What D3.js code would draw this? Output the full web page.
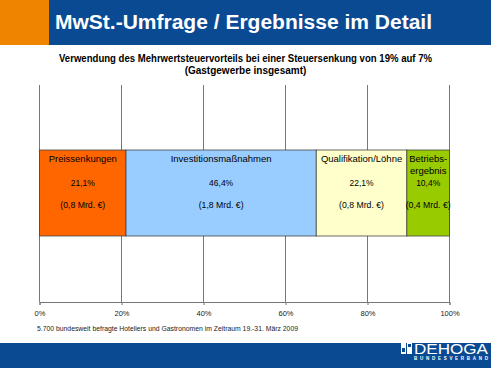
<!DOCTYPE html>
<html><head><meta charset="utf-8">
<script src="https://cdn.jsdelivr.net/npm/d3@7"></script>
<style>body{margin:0;background:#fff}svg{display:block}text{font-family:Arial,"Liberation Sans",sans-serif}</style>
</head><body>
<script>
const categories = ["Preissenkungen", "Investitionsmaßnahmen", "Qualifikation/Löhne", "Betriebs-\nergebnis"];
const values = [21.1, 46.4, 22.1, 10.4];
const valueLabels = ["21,1%", "46,4%", "22,1%", "10,4%"];
const amountLabels = ["(0,8 Mrd. €)", "(1,8 Mrd. €)", "(0,8 Mrd. €)", "(0,4 Mrd. €)"];
const colors = ["#FF6600", "#99CCFF", "#FFFFCC", "#99CC00"];
const tickValues = [0, 20, 40, 60, 80, 100];
const tickLabels = ["0%", "20%", "40%", "60%", "80%", "100%"];
const pageTitle = "MwSt.-Umfrage / Ergebnisse im Detail";
const chartTitle = ["Verwendung des Mehrwertsteuervorteils bei einer Steuersenkung von 19% auf 7%", "(Gastgewerbe insgesamt)"];
const note = "5.700 bundesweit befragte Hoteliers und Gastronomen im Zeitraum 19.-31. März 2009";

const W = 491, H = 368;
const svg = d3.select("body").append("svg").attr("width", W).attr("height", H);

// header
svg.append("rect").attr("x", 0).attr("y", 0).attr("width", 49).attr("height", 45).attr("fill", "#EE8400");
svg.append("rect").attr("x", 49).attr("y", 0).attr("width", W - 49).attr("height", 45).attr("fill", "#0A4A93");
svg.append("text").attr("x", 55).attr("y", 29).attr("fill", "#fff").attr("font-size", 20).attr("font-weight", "bold")
  .attr("textLength", 377).attr("lengthAdjust", "spacingAndGlyphs").text(pageTitle);

// footer
svg.append("rect").attr("x", 0).attr("y", 343).attr("width", W).attr("height", H - 343).attr("fill", "#0A4A93");
const logo = svg.append("g");
logo.append("rect").attr("x", 401).attr("y", 342).attr("width", 5).attr("height", 12).attr("fill", "#fff");
logo.append("rect").attr("x", 407).attr("y", 342).attr("width", 5).attr("height", 12).attr("fill", "#fff");
logo.append("rect").attr("x", 402).attr("y", 348).attr("width", 3).attr("height", 4).attr("fill", "#0A4A93");
logo.append("rect").attr("x", 408).attr("y", 344).attr("width", 3).attr("height", 3).attr("fill", "#0A4A93");
logo.append("text").attr("x", 414).attr("y", 354).attr("fill", "#fff").attr("font-size", 15).text("DEHOGA")
  .attr("textLength", 74).attr("lengthAdjust", "spacingAndGlyphs");
logo.append("text").attr("x", 414).attr("y", 360).attr("fill", "#fff").attr("font-size", 4.5).attr("font-weight", "bold")
  .attr("textLength", 74).text("BUNDESVERBAND");

// chart title
svg.selectAll(".ct").data(chartTitle).join("text").attr("class", "ct")
  .attr("x", 245.5).attr("y", (d, i) => 62 + i * 12).attr("text-anchor", "middle")
  .attr("font-size", 10).attr("font-weight", "bold").attr("fill", "#000")
  .each(function (d, i) { if (i === 0) d3.select(this).attr("textLength", 373).attr("lengthAdjust", "spacingAndGlyphs"); })
  .text(d => d);

// scales
const x = d3.scaleLinear().domain([0, 100]).range([39.5, 449.5]);
const yTop = 85, axisY = 302, barTop = 150, barBot = 236;

// gridlines
svg.append("g").selectAll("line").data(tickValues).join("line")
  .attr("x1", d => x(d)).attr("x2", d => x(d)).attr("y1", yTop).attr("y2", axisY)
  .attr("stroke", "#777").attr("stroke-width", 1);

// axis
const axis = d3.axisBottom(x).tickValues(tickValues).tickFormat((d, i) => tickLabels[i]).tickSize(3).tickPadding(6);
const ag = svg.append("g").attr("transform", `translate(0,${axisY})`).call(axis);
ag.select(".domain").attr("stroke", "#777");
ag.selectAll(".tick line").attr("stroke", "#777");
ag.selectAll(".tick text").attr("font-size", 7.5).attr("fill", "#222").attr("font-family", "Arial, 'Liberation Sans', sans-serif");

// stacked bar
let cum = 0;
const segs = values.map((v, i) => { const s = { i, x0: cum, x1: cum + v }; cum += v; return s; });
const g = svg.append("g");
g.selectAll("rect").data(segs).join("rect")
  .attr("x", d => x(d.x0)).attr("y", barTop).attr("width", d => x(d.x1) - x(d.x0)).attr("height", barBot - barTop)
  .attr("fill", d => colors[d.i]).attr("stroke", "#444").attr("stroke-width", 0.8);

segs.forEach(s => {
  const cx = (x(s.x0) + x(s.x1)) / 2;
  const lines = categories[s.i].split("\n");
  lines.forEach((l, j) => {
    g.append("text").attr("x", cx).attr("y", 162 + j * 12).attr("text-anchor", "middle")
      .attr("font-size", 9.5).attr("fill", "#000").text(l);
  });
  g.append("text").attr("x", cx).attr("y", 186).attr("text-anchor", "middle").attr("font-size", 8.5).attr("fill", "#000").text(valueLabels[s.i]);
  g.append("text").attr("x", cx).attr("y", 208).attr("text-anchor", "middle").attr("font-size", 8.7).attr("fill", "#000")
    .text(amountLabels[s.i]);
});

// note
svg.append("text").attr("x", 37).attr("y", 331).attr("font-size", 7).attr("fill", "#222")
  .attr("textLength", 261).attr("lengthAdjust", "spacingAndGlyphs").text(note);
</script>
</body></html>
